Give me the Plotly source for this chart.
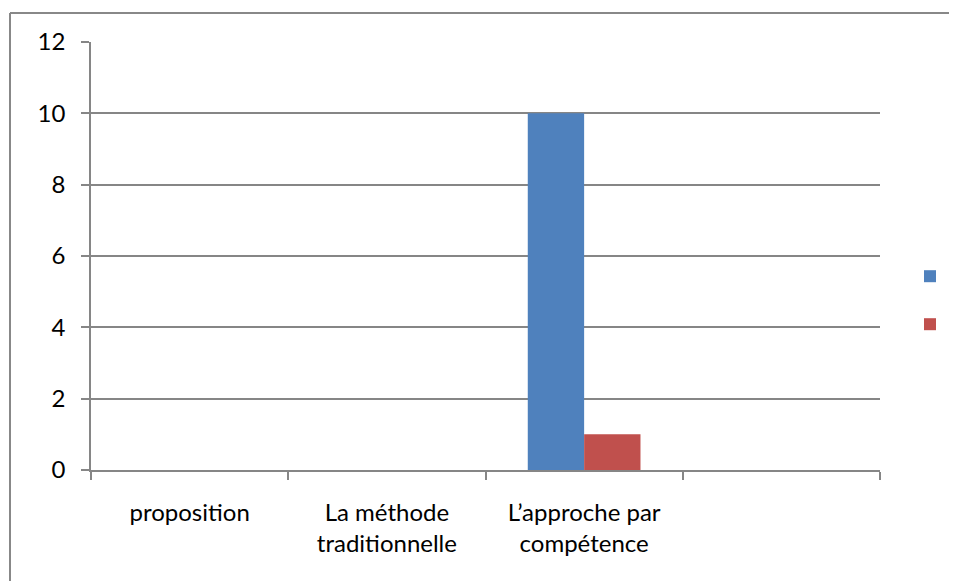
import plotly.graph_objects as go

categories = ["proposition", "La méthode<br>traditionnelle", "L’approche par<br>compétence", " "]
series1 = [0, 0, 10, 0]
series2 = [0, 0, 1, 0]
y_ticks = [0, 2, 4, 6, 8, 10, 12]

# page body has an 8px margin; work in figure coordinates shifted by 8px
OFF = 8
W, H = 957 - OFF, 581 - OFF
L, R, T, B = 91 - OFF, 880 - OFF, 42 - OFF, 470 - OFF

def px(x):
    return (x - OFF - L) / (R - L)

def py(y):
    return (B - (y - OFF)) / (B - T)

fig = go.Figure()
fig.add_trace(go.Bar(x=categories, y=series1, name=" ", marker=dict(color="#4F81BD", line=dict(width=0)), legend="legend"))
fig.add_trace(go.Bar(x=categories, y=series2, name=" ", marker=dict(color="#C0504D", line=dict(width=0)), legend="legend2"))

grey = "#868686"
fig.update_layout(
    width=W, height=H,
    margin=dict(l=L, r=W - R, t=T, b=H - B, pad=0, autoexpand=False),
    paper_bgcolor="white", plot_bgcolor="white",
    barmode="group", bargap=1.5 / 3.5, bargroupgap=0,
    font=dict(family="Lato, 'Open Sans', sans-serif", size=24, color="black"),
    xaxis=dict(type="category", tickson="boundaries", ticks="outside", ticklen=8, tickcolor=grey, tickwidth=1.5,
               showline=True, linecolor=grey, linewidth=1.5, showgrid=False, ticklabelstandoff=20),
    yaxis=dict(range=[0, 12], tickvals=y_ticks, ticks="outside", ticklen=8, tickcolor=grey, tickwidth=1.5,
               showline=True, linecolor=grey, linewidth=1.5, showgrid=True, gridcolor=grey, gridwidth=1.5,
               zeroline=False, ticklabelstandoff=11),
    showlegend=True,
    legend=dict(x=px(910), y=py(276.5), xanchor="left", yanchor="middle", bgcolor="rgba(0,0,0,0)",
                itemwidth=30, font=dict(size=18)),
    legend2=dict(x=px(910), y=py(324.5), xanchor="left", yanchor="middle", bgcolor="rgba(0,0,0,0)",
                 itemwidth=30, font=dict(size=18)),
    shapes=[
        dict(type="line", xref="paper", yref="paper", x0=px(10), x1=px(10), y0=py(600), y1=py(13),
             line=dict(color="#888888", width=2)),
        dict(type="line", xref="paper", yref="paper", x0=px(10), x1=px(980), y0=py(13), y1=py(13),
             line=dict(color="#888888", width=2)),
    ],
)

fig.write_html("out.html")
